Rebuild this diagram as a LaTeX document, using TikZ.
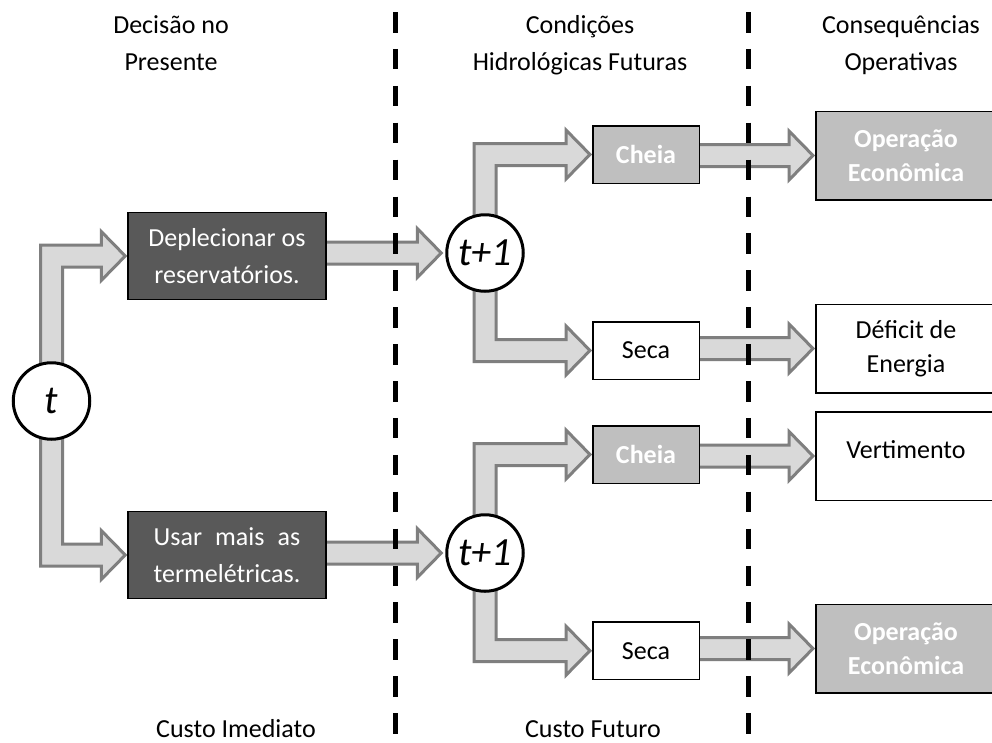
\documentclass[tikz,border=0pt]{standalone}
\usepackage{fontspec}
\setmainfont{Carlito}
\usetikzlibrary{calc,backgrounds}

\definecolor{boxdark}{HTML}{595959}
\definecolor{boxlight}{HTML}{BFBFBF}
\definecolor{arrowfill}{HTML}{D9D9D9}
\definecolor{arrowline}{HTML}{7F7F7F}

\newlength\justw
% block arrow dimensions: half shaft width, half head width, head length
\newcommand\shaftw{11pt}
\newcommand\headw{24.5pt}
\newcommand\headl{24pt}

% elbow block arrow: leaves a circle upwards, turns right into a box
\newcommand\elbowup[3]{%
  \path[blockarrow] let \p1=(#1.center), \p2=([xshift=-#3]#2.west) in
    (\x1-\shaftw,\y1) -- (\x1-\shaftw,\y2+\shaftw) -- (\x2-\headl,\y2+\shaftw)
    -- (\x2-\headl,\y2+\headw) -- (\x2,\y2) -- (\x2-\headl,\y2-\headw)
    -- (\x2-\headl,\y2-\shaftw) -- (\x1+\shaftw,\y2-\shaftw) -- (\x1+\shaftw,\y1) -- cycle;}
% elbow block arrow: leaves a circle downwards, turns right into a box
\newcommand\elbowdown[3]{%
  \path[blockarrow] let \p1=(#1.center), \p2=([xshift=-#3]#2.west) in
    (\x1-\shaftw,\y1) -- (\x1-\shaftw,\y2-\shaftw) -- (\x2-\headl,\y2-\shaftw)
    -- (\x2-\headl,\y2-\headw) -- (\x2,\y2) -- (\x2-\headl,\y2+\headw)
    -- (\x2-\headl,\y2+\shaftw) -- (\x1+\shaftw,\y2+\shaftw) -- (\x1+\shaftw,\y1) -- cycle;}
% straight block arrow from the east side of one node to the west side of another
\newcommand\flatarrow[3]{%
  \path[blockarrow] let \p1=(#1.east), \p2=([xshift=-#3]#2.west) in
    (\x1-3pt,\y2+\shaftw) -- (\x2-\headl,\y2+\shaftw) -- (\x2-\headl,\y2+\headw)
    -- (\x2,\y2) -- (\x2-\headl,\y2-\headw) -- (\x2-\headl,\y2-\shaftw)
    -- (\x1-3pt,\y2-\shaftw) -- cycle;}

\tikzset{
  blockarrow/.style={fill=arrowfill, draw=arrowline, line width=3pt, line join=miter},
  lbl/.style={font=\fontsize{26}{36.5}\selectfont, align=center, inner sep=0pt},
  hdr/.style={lbl, text height=55pt, text depth=0pt},
  boxbase/.style={draw=black, line width=1.5pt, align=center, inner sep=0pt},
  darkbox/.style={boxbase, fill=boxdark, text=white, minimum width=198pt, minimum height=87pt,
    font=\fontsize{26}{37.5}\selectfont},
  smallbox/.style={boxbase, minimum width=106.5pt, minimum height=57.5pt,
    font=\fontsize{26}{34}\selectfont},
  smalllight/.style={smallbox, fill=boxlight, text=white, font=\fontsize{26}{34}\selectfont\bfseries},
  smallwhite/.style={smallbox, fill=white},
  bigbox/.style={boxbase, minimum width=180.5pt, minimum height=88.5pt,
    font=\fontsize{26}{34}\selectfont},
  biglight/.style={bigbox, fill=boxlight, text=white, font=\fontsize{26}{34}\selectfont\bfseries},
  bigwhite/.style={bigbox, fill=white},
  stage/.style={circle, draw=black, line width=3pt, fill=white, minimum size=76.5pt,
    inner sep=0pt, font=\fontsize{40}{40}\selectfont\itshape},
  divider/.style={draw=black, line width=4.5pt, dash pattern=on 20.5pt off 16.4pt}
}

\begin{document}
\begin{tikzpicture}[x=1pt,y=-1pt]
\useasboundingbox (0,0) rectangle (992,742);

% column headings
\node[hdr] (hdec) at (171,42.5) {Decisão no\\Presente};
\node[hdr] (hcond) at (580,42.5) {Condições\\Hidrológicas Futuras};
\node[hdr] (hcons) at (901,42.5) {Consequências\\Operativas};

% cost labels
\node[lbl, anchor=base] (cimed) at (236,737) {Custo Imediato};
\node[lbl, anchor=base] (cfut) at (593,737) {Custo Futuro};

% stages
\node[stage] (t0) at (51.5,401) {t};
\node[stage] (t1a) at (485,253) {t+1};
\node[stage] (t1b) at (485,553) {t+1};

% decisions
\node[darkbox] (deplec) at (227,256) {Deplecionar os\\reservatórios.};
\node[darkbox] (usar) at (227,555)
  {\settowidth\justw{termelétricas.}\makebox[\justw][s]{Usar mais as}\\termelétricas.};

% hydrological conditions
\node[smalllight] (cheiaA) at (646,154.5) {Cheia};
\node[smallwhite] (secaA) at (646,350.5) {Seca};
\node[smalllight] (cheiaB) at (646,454.5) {Cheia};
\node[smallwhite] (secaB) at (646,650.7) {Seca};

% operative consequences
\node[biglight] (opA) at (906,155.5) {Operação\\Econômica};
\node[bigwhite] (deficit) at (906,348.5) {Déficit de\\Energia};
\node[bigwhite, text height=18pt, text depth=14pt] (vert) at (906,456) {Vertimento};
\node[biglight] (opB) at (906,648.5) {Operação\\Econômica};

\begin{pgfonlayer}{background}
  \fill[white] (0,0) rectangle (992,742);
  \elbowup{t0}{deplec}{2pt}
  \elbowdown{t0}{usar}{2pt}
  \flatarrow{deplec}{t1a}{4pt}
  \flatarrow{usar}{t1b}{4pt}
  \elbowup{t1a}{cheiaA}{2pt}
  \elbowdown{t1a}{secaA}{2pt}
  \elbowup{t1b}{cheiaB}{2pt}
  \elbowdown{t1b}{secaB}{2pt}
  \flatarrow{cheiaA}{opA}{2pt}
  \flatarrow{secaA}{deficit}{2pt}
  \flatarrow{cheiaB}{vert}{2pt}
  \flatarrow{secaB}{opB}{2pt}
\end{pgfonlayer}

% stage dividers
\coordinate (d1top) at (395.5,12);
\coordinate (d1bot) at (395.5,742);
\coordinate (d2top) at (748.5,12);
\coordinate (d2bot) at (748.5,742);
\draw[divider] (d1top) -- (d1bot);
\draw[divider] (d2top) -- (d2bot);
\end{tikzpicture}
\end{document}
